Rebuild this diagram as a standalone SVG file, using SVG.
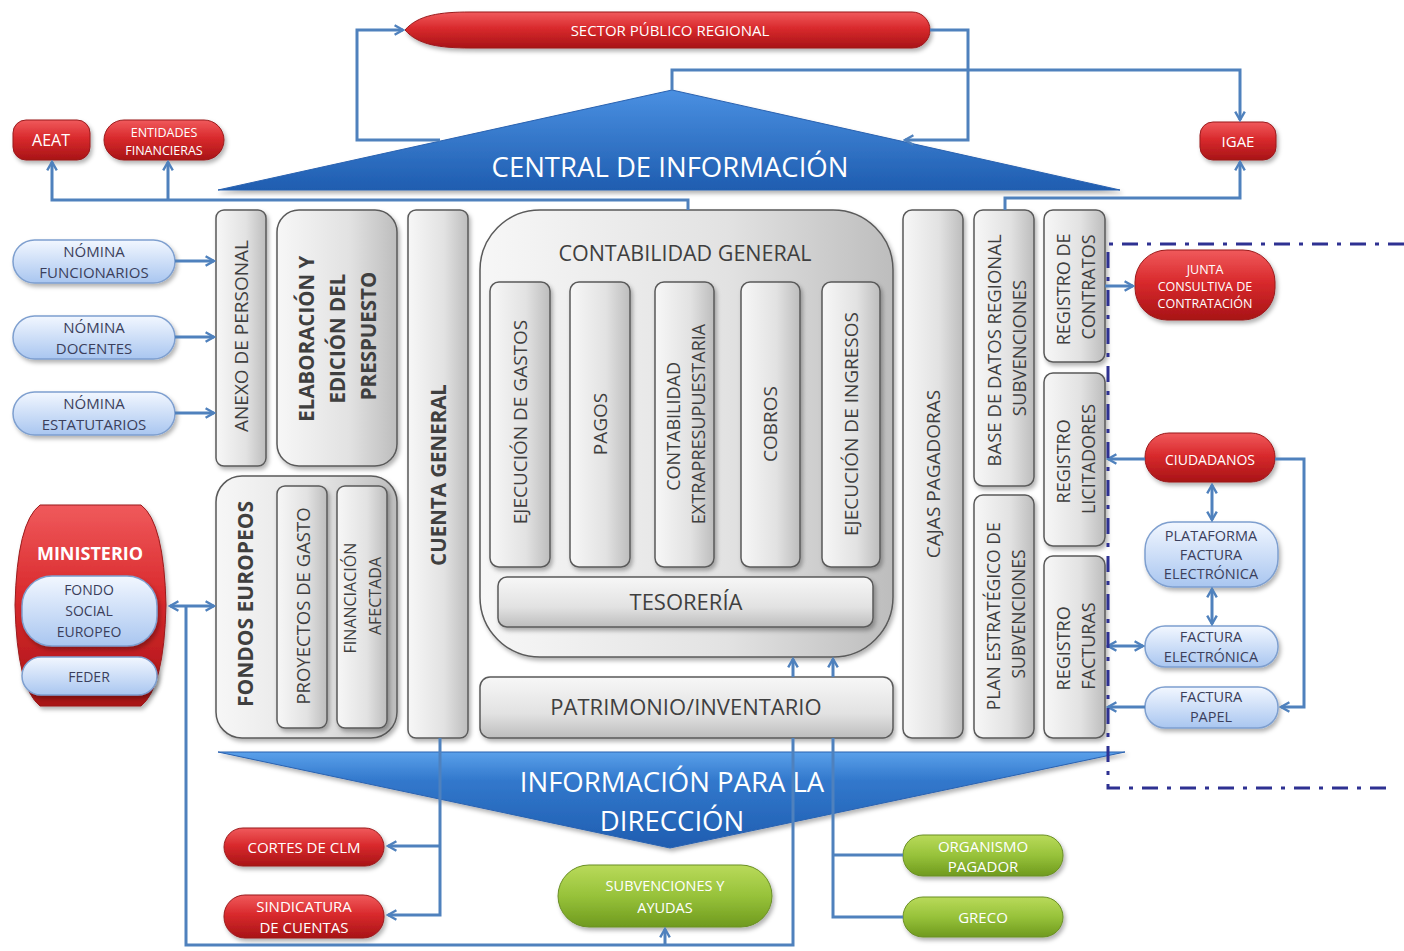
<svg xmlns="http://www.w3.org/2000/svg" width="1404" height="951" viewBox="0 0 1404 951">
<defs>
  <linearGradient id="gRed" x1="0" y1="0" x2="0" y2="1">
    <stop offset="0" stop-color="#F05A5C"/>
    <stop offset="0.45" stop-color="#D92A2D"/>
    <stop offset="1" stop-color="#A81416"/>
  </linearGradient>
  <linearGradient id="gBlueL" x1="0" y1="0" x2="0" y2="1">
    <stop offset="0" stop-color="#F2F7FF"/>
    <stop offset="1" stop-color="#A9C6F0"/>
  </linearGradient>
  <linearGradient id="gGreen" x1="0" y1="0" x2="0" y2="1">
    <stop offset="0" stop-color="#B9DA5A"/>
    <stop offset="0.5" stop-color="#97C23A"/>
    <stop offset="1" stop-color="#6F9A1E"/>
  </linearGradient>
  <linearGradient id="gGrayV" x1="0" y1="0" x2="1" y2="0">
    <stop offset="0" stop-color="#F7F7F7"/>
    <stop offset="0.6" stop-color="#E2E2E2"/>
    <stop offset="1" stop-color="#BDBDBD"/>
  </linearGradient>
  <linearGradient id="gGrayH" x1="0" y1="0" x2="0" y2="1">
    <stop offset="0" stop-color="#F7F7F7"/>
    <stop offset="0.6" stop-color="#E2E2E2"/>
    <stop offset="1" stop-color="#BDBDBD"/>
  </linearGradient>
  <linearGradient id="gTri" x1="0" y1="0" x2="0" y2="1">
    <stop offset="0" stop-color="#4A90E2"/>
    <stop offset="1" stop-color="#1F5DB0"/>
  </linearGradient>
  <linearGradient id="gTri2" x1="0" y1="0" x2="0" y2="1">
    <stop offset="0" stop-color="#5AA0EA"/>
    <stop offset="0.3" stop-color="#3278CC"/>
    <stop offset="1" stop-color="#1F5DB0"/>
  </linearGradient>
  <filter id="sh" x="-10%" y="-10%" width="130%" height="140%">
    <feDropShadow dx="2" dy="3" stdDeviation="2" flood-color="#000" flood-opacity="0.3"/>
  </filter>
  <marker id="arr" viewBox="0 0 10 10" refX="8.5" refY="5" markerWidth="4" markerHeight="4" orient="auto-start-reverse" markerUnits="strokeWidth">
    <path d="M1.5,1 L8.5,5 L1.5,9" fill="none" stroke="#4F81BD" stroke-width="2"/>
  </marker>
</defs>
<style>
  .red { fill: url(#gRed); stroke: #9A1A1C; stroke-width: 1; filter: url(#sh); }
  .lb { fill: url(#gBlueL); stroke: #7E9FCF; stroke-width: 1.5; filter: url(#sh); }
  .grn { fill: url(#gGreen); stroke: #6A8F25; stroke-width: 1; filter: url(#sh); }
  .gv { fill: url(#gGrayV); stroke: #5A5A5A; stroke-width: 1.5; filter: url(#sh); }
  .gh { fill: url(#gGrayH); stroke: #5A5A5A; stroke-width: 1.5; filter: url(#sh); }
  .wt { fill: #FFFFFF; font-family: "Open Sans", "Liberation Sans", sans-serif; text-anchor: middle; dominant-baseline: central; }
  .dk { fill: #3F3F3F; font-family: "Open Sans", "Liberation Sans", sans-serif; text-anchor: middle; dominant-baseline: central; }
  .bl { fill: #3B3F5C; font-family: "Open Sans", "Liberation Sans", sans-serif; text-anchor: middle; dominant-baseline: central; }
  .b { font-weight: bold; }
  .con { fill: none; stroke: #4F81BD; stroke-width: 3; }
  .ar { marker-end: url(#arr); }
  .da { marker-start: url(#arr); marker-end: url(#arr); }
  .tri { fill: url(#gTri); stroke: #2A62B0; stroke-width: 1; filter: url(#sh); }
</style>
<rect width="1404" height="951" fill="#FFFFFF"/>

<!-- triangles -->
<g id="central-informacion">
  <polygon class="tri" points="218,190 672,90 1120,190"/>
  <text class="wt" x="670" y="166" font-size="27.5">CENTRAL DE INFORMACIÓN</text>
</g>
<g id="informacion-direccion">
  <polygon class="tri" points="218,752 1125,752 670,848" style="fill:url(#gTri2)"/>
  <text class="wt" x="672" y="781" font-size="27.5">INFORMACIÓN PARA LA</text>
  <text class="wt" x="672" y="820" font-size="27.5">DIRECCIÓN</text>
</g>

<!-- top red nodes -->
<g id="sector-publico">
  <path class="red" d="M405,30 C418,15 440,12 470,12 L912,12 A18,18 0 0 1 912,48 L470,48 C440,48 418,45 405,30 Z"/>
  <text class="wt" x="670" y="30" font-size="15">SECTOR PÚBLICO REGIONAL</text>
</g>
<g id="aeat">
  <rect class="red" x="13" y="120" width="77" height="40" rx="13"/>
  <text class="wt" x="51" y="140" font-size="16">AEAT</text>
</g>
<g id="entidades">
  <rect class="red" x="104" y="120" width="120" height="40" rx="20"/>
  <text class="wt" x="164" y="132" font-size="12.5">ENTIDADES</text>
  <text class="wt" x="164" y="150" font-size="12.5">FINANCIERAS</text>
</g>
<g id="igae">
  <rect class="red" x="1200" y="122" width="76" height="38" rx="13"/>
  <text class="wt" x="1238" y="141" font-size="15">IGAE</text>
</g>

<!-- nominas -->
<g id="nomina-funcionarios">
  <rect class="lb" x="13" y="240" width="162" height="43" rx="21.5"/>
  <text class="bl" x="94" y="251" font-size="15">NÓMINA</text>
  <text class="bl" x="94" y="272" font-size="15">FUNCIONARIOS</text>
</g>
<g id="nomina-docentes">
  <rect class="lb" x="13" y="316" width="162" height="43" rx="21.5"/>
  <text class="bl" x="94" y="327" font-size="15">NÓMINA</text>
  <text class="bl" x="94" y="348" font-size="15">DOCENTES</text>
</g>
<g id="nomina-estatutarios">
  <rect class="lb" x="13" y="392" width="162" height="43" rx="21.5"/>
  <text class="bl" x="94" y="403" font-size="15">NÓMINA</text>
  <text class="bl" x="94" y="424" font-size="15">ESTATUTARIOS</text>
</g>

<!-- ministerio -->
<g id="ministerio">
  <path class="red" d="M40,505 H141 Q164,522 166,605 Q164,688 141,706 H40 Q17,688 15,605 Q17,522 40,505 Z"/>
  <text class="wt b" x="90" y="553" font-size="18">MINISTERIO</text>
  <rect class="lb" x="22" y="576" width="135" height="70" rx="30"/>
  <text class="bl" x="89" y="589" font-size="14">FONDO</text>
  <text class="bl" x="89" y="610" font-size="14">SOCIAL</text>
  <text class="bl" x="89" y="631" font-size="14">EUROPEO</text>
  <rect class="lb" x="22" y="657" width="135" height="38" rx="19"/>
  <text class="bl" x="89" y="676" font-size="14">FEDER</text>
</g>

<!-- gray boxes left -->
<g id="anexo-personal">
  <rect class="gv" x="216" y="210" width="50" height="256" rx="8"/>
  <text class="dk" transform="translate(241,336) rotate(-90)" font-size="19">ANEXO DE PERSONAL</text>
</g>
<g id="elaboracion">
  <rect class="gv" x="277" y="210" width="120" height="256" rx="22"/>
  <text class="dk b" transform="translate(337,336) rotate(-90)" font-size="20.5">
    <tspan x="0" dy="-31">ELABORACIÓN Y</tspan>
    <tspan x="0" dy="31">EDICIÓN DEL</tspan>
    <tspan x="0" dy="31">PRESPUESTO</tspan>
  </text>
</g>
<g id="cuenta-general">
  <rect class="gv" x="408" y="210" width="60" height="528" rx="8"/>
  <text class="dk b" transform="translate(438,475) rotate(-90)" font-size="20.5">CUENTA GENERAL</text>
</g>
<g id="fondos-europeos">
  <rect class="gv" x="216" y="476" width="181" height="262" rx="26"/>
  <text class="dk b" transform="translate(245,604) rotate(-90)" font-size="21">FONDOS EUROPEOS</text>
  <rect class="gv" x="277" y="486" width="50" height="242" rx="8"/>
  <text class="dk" transform="translate(302,606) rotate(-90)" font-size="18.5">PROYECTOS  DE GASTO</text>
  <rect class="gv" x="337" y="486" width="50" height="242" rx="8"/>
  <text class="dk" transform="translate(362,596) rotate(-90)" font-size="16">
    <tspan x="0" dy="-12">FINANCIACIÓN</tspan>
    <tspan x="0" dy="25">AFECTADA</tspan>
  </text>
</g>

<!-- contabilidad general -->
<g id="contabilidad-general">
  <rect class="gv" x="480" y="210" width="413" height="447" rx="60"/>
  <text class="dk" x="685" y="252" font-size="21.5">CONTABILIDAD GENERAL</text>
</g>
<g id="ejecucion-gastos">
  <rect class="gv" x="490" y="282" width="60" height="285" rx="9"/>
  <text class="dk" transform="translate(520,422) rotate(-90)" font-size="19">EJECUCIÓN DE GASTOS</text>
</g>
<g id="pagos">
  <rect class="gv" x="570" y="282" width="60" height="285" rx="9"/>
  <text class="dk" transform="translate(600,424) rotate(-90)" font-size="19">PAGOS</text>
</g>
<g id="contabilidad-extra">
  <rect class="gv" x="655" y="282" width="59" height="285" rx="9"/>
  <text class="dk" transform="translate(685,424) rotate(-90)" font-size="18">
    <tspan x="0" dy="-12">CONTABILIDAD</tspan>
    <tspan x="0" dy="25">EXTRAPRESUPUESTARIA</tspan>
  </text>
</g>
<g id="cobros">
  <rect class="gv" x="741" y="282" width="59" height="285" rx="9"/>
  <text class="dk" transform="translate(770,424) rotate(-90)" font-size="19">COBROS</text>
</g>
<g id="ejecucion-ingresos">
  <rect class="gv" x="822" y="282" width="58" height="285" rx="9"/>
  <text class="dk" transform="translate(851,424) rotate(-90)" font-size="19">EJECUCIÓN DE INGRESOS</text>
</g>
<g id="tesoreria">
  <rect class="gh" x="498" y="577" width="375" height="50" rx="9"/>
  <text class="dk" x="686" y="601" font-size="22">TESORERÍA</text>
</g>
<g id="patrimonio">
  <rect class="gh" x="480" y="677" width="413" height="61" rx="10"/>
  <text class="dk" x="686" y="706" font-size="22">PATRIMONIO/INVENTARIO</text>
</g>

<!-- right gray boxes -->
<g id="cajas-pagadoras">
  <rect class="gv" x="903" y="210" width="60" height="528" rx="9"/>
  <text class="dk" transform="translate(933,474) rotate(-90)" font-size="19">CAJAS PAGADORAS</text>
</g>
<g id="base-datos">
  <rect class="gv" x="974" y="210" width="60" height="276" rx="9"/>
  <text class="dk" transform="translate(1005,348) rotate(-90)" font-size="18.5">
    <tspan x="0" dy="-12">BASE DE DATOS REGIONAL</tspan>
    <tspan x="0" dy="25">SUBVENCIONES</tspan>
  </text>
</g>
<g id="plan-estrategico">
  <rect class="gv" x="974" y="495" width="60" height="243" rx="9"/>
  <text class="dk" transform="translate(1005,614) rotate(-90)" font-size="17.5">
    <tspan x="0" dy="-12">PLAN ESTRATÉGICO DE</tspan>
    <tspan x="0" dy="25">SUBVENCIONES</tspan>
  </text>
</g>
<g id="registro-contratos">
  <rect class="gv" x="1044" y="210" width="61" height="152" rx="9"/>
  <text class="dk" transform="translate(1075,287) rotate(-90)" font-size="18">
    <tspan x="0" dy="-12">REGISTRO DE</tspan>
    <tspan x="0" dy="25">CONTRATOS</tspan>
  </text>
</g>
<g id="registro-licitadores">
  <rect class="gv" x="1044" y="373" width="61" height="173" rx="9"/>
  <text class="dk" transform="translate(1075,459) rotate(-90)" font-size="18">
    <tspan x="0" dy="-12">REGISTRO</tspan>
    <tspan x="0" dy="25">LICITADORES</tspan>
  </text>
</g>
<g id="registro-facturas">
  <rect class="gv" x="1044" y="556" width="61" height="182" rx="9"/>
  <text class="dk" transform="translate(1075,646) rotate(-90)" font-size="18">
    <tspan x="0" dy="-12">REGISTRO</tspan>
    <tspan x="0" dy="25">FACTURAS</tspan>
  </text>
</g>

<!-- right external nodes -->
<g id="junta-consultiva">
  <rect class="red" x="1135" y="250" width="140" height="70" rx="32"/>
  <text class="wt" x="1205" y="269" font-size="12.5">JUNTA</text>
  <text class="wt" x="1205" y="286" font-size="12.5">CONSULTIVA DE</text>
  <text class="wt" x="1205" y="303" font-size="12.5">CONTRATACIÓN</text>
</g>
<g id="ciudadanos">
  <rect class="red" x="1145" y="433" width="130" height="49" rx="24"/>
  <text class="wt" x="1210" y="459" font-size="14">CIUDADANOS</text>
</g>
<g id="plataforma">
  <rect class="lb" x="1145" y="522" width="133" height="65" rx="28"/>
  <text class="bl" x="1211" y="535" font-size="14.5">PLATAFORMA</text>
  <text class="bl" x="1211" y="554" font-size="14.5">FACTURA</text>
  <text class="bl" x="1211" y="573" font-size="14.5">ELECTRÓNICA</text>
</g>
<g id="factura-electronica">
  <rect class="lb" x="1145" y="626" width="133" height="41" rx="20"/>
  <text class="bl" x="1211" y="636" font-size="14.5">FACTURA</text>
  <text class="bl" x="1211" y="656" font-size="14.5">ELECTRÓNICA</text>
</g>
<g id="factura-papel">
  <rect class="lb" x="1145" y="687" width="133" height="41" rx="20"/>
  <text class="bl" x="1211" y="696" font-size="14.5">FACTURA</text>
  <text class="bl" x="1211" y="716" font-size="14.5">PAPEL</text>
</g>

<!-- bottom nodes -->
<g id="cortes-clm">
  <rect class="red" x="224" y="828" width="160" height="38" rx="19"/>
  <text class="wt" x="304" y="847" font-size="15">CORTES DE CLM</text>
</g>
<g id="sindicatura">
  <rect class="red" x="224" y="895" width="160" height="43" rx="21"/>
  <text class="wt" x="304" y="906" font-size="15">SINDICATURA</text>
  <text class="wt" x="304" y="927" font-size="15">DE CUENTAS</text>
</g>
<g id="subvenciones-ayudas">
  <rect class="grn" x="558" y="865" width="214" height="62" rx="31"/>
  <text class="wt" x="665" y="885" font-size="14.5">SUBVENCIONES  Y</text>
  <text class="wt" x="665" y="907" font-size="14.5">AYUDAS</text>
</g>
<g id="organismo-pagador">
  <rect class="grn" x="903" y="835" width="160" height="41" rx="20"/>
  <text class="wt" x="983" y="846" font-size="15">ORGANISMO</text>
  <text class="wt" x="983" y="866" font-size="15">PAGADOR</text>
</g>
<g id="greco">
  <rect class="grn" x="903" y="897" width="160" height="40" rx="20"/>
  <text class="wt" x="983" y="917" font-size="15">GRECO</text>
</g>

<!-- connectors -->
<g id="connectors">
  <polyline class="con ar" points="440,140 357,140 357,30 403,30"/>
  <polyline class="con ar" points="930,30 968,30 968,140 905,140"/>
  <polyline class="con ar" points="672,90 672,70 1240,70 1240,120"/>
  <polyline class="con ar" points="1005,210 1005,198 1240,198 1240,162"/>
  <polyline class="con ar" points="688,210 688,200 52,200 52,162"/>
  <polyline class="con ar" points="168,200 168,162"/>
  <line class="con ar" x1="175" y1="261" x2="214" y2="261"/>
  <line class="con ar" x1="175" y1="337" x2="214" y2="337"/>
  <line class="con ar" x1="175" y1="413" x2="214" y2="413"/>
  <line class="con da" x1="170" y1="606" x2="214" y2="606"/>
  <polyline class="con" points="186,606 186,945 793,945 793,738"/>
  <line class="con ar" x1="665" y1="945" x2="665" y2="929"/>
  <line class="con ar" x1="793" y1="677" x2="793" y2="659"/>
  <line class="con ar" x1="833" y1="677" x2="833" y2="659"/>
  <polyline class="con" points="833,738 833,917 903,917"/>
  <line class="con" x1="833" y1="855" x2="903" y2="855"/>
  <polyline class="con ar" points="440,738 440,915 388,915"/>
  <line class="con ar" x1="440" y1="846" x2="388" y2="846"/>
  <line class="con ar" x1="1105" y1="286" x2="1133" y2="286"/>
  <line class="con ar" x1="1145" y1="459" x2="1108" y2="459"/>
  <polyline class="con ar" points="1275,459 1304,459 1304,707 1281,707"/>
  <line class="con da" x1="1212" y1="485" x2="1212" y2="520"/>
  <line class="con da" x1="1212" y1="589" x2="1212" y2="624"/>
  <line class="con da" x1="1108" y1="646" x2="1143" y2="646"/>
  <line class="con ar" x1="1145" y1="707" x2="1108" y2="707"/>
  <polyline points="1404,244 1108,244 1108,788 1395,788" fill="none" stroke="#2E3192" stroke-width="3" stroke-dasharray="16,9,4,9"/>
</g>
</svg>
